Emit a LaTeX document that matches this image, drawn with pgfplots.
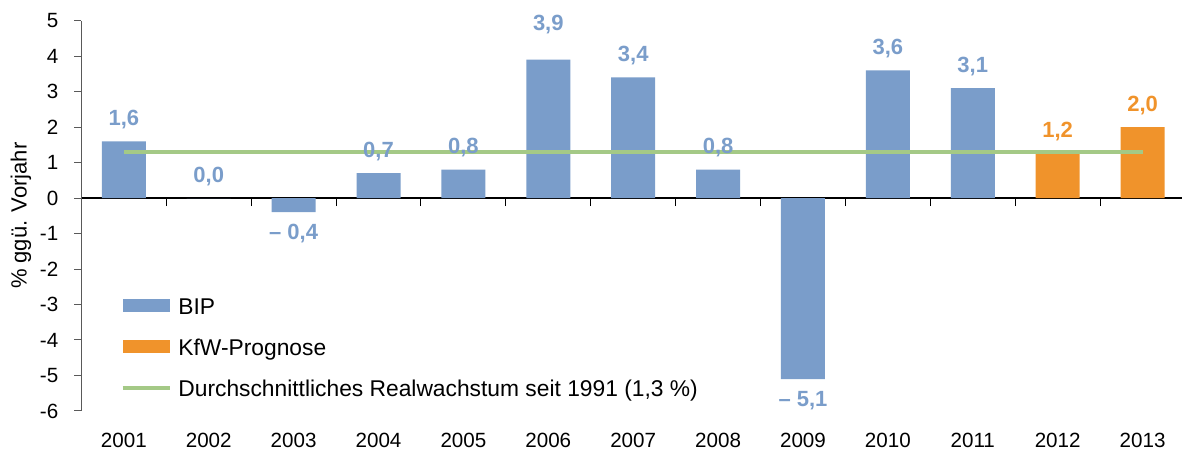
\documentclass[border=0pt]{standalone}
\usepackage{fontspec}
\setmainfont{Liberation Sans}
\usepackage{pgfplots}
\pgfplotsset{compat=1.18}
\definecolor{bipblue}{RGB}{122,157,202}
\definecolor{kfworange}{RGB}{240,147,43}
\definecolor{avggreen}{RGB}{164,201,134}

% BIP, non-negative years
\pgfplotstableread{
x y label
0 1.6 {1,6}
1 0.0 {0,0}
3 0.7 {0,7}
4 0.8 {0,8}
5 3.9 {\raisebox{6.5pt}{3,9}}
6 3.4 {3,4}
7 0.8 {0,8}
9 3.6 {3,6}
10 3.1 {3,1}
}\bippos
% BIP, negative years
\pgfplotstableread{
x y label
2 -0.4 {–~0,4}
8 -5.1 {–~5,1}
}\bipneg
% KfW forecast
\pgfplotstableread{
x y label
11 1.25 {1,2}
12 2.0 {2,0}
}\kfwdata

\begin{document}
\begin{tikzpicture}
\pgfplotsset{
  common/.style={
    scale only axis, width=550.2pt, height=195.2pt,
    xmin=-0.5, xmax=12.46, ymin=-6, ymax=5,
  },
  poslabel/.style={nodes near coords style={font=\fontsize{11}{13}\selectfont\bfseries, inner sep=0pt, anchor=base, yshift=8pt}},
  neglabel/.style={nodes near coords style={font=\fontsize{11}{13}\selectfont\bfseries, inner sep=0pt, anchor=north, yshift=-6pt}},
}
\begin{axis}[common,
  axis y line=left, axis x line=middle,
  axis line style={-},
  x axis line style={black, line width=1pt},
  y axis line style={black!65, line width=0.5pt},
  hide obscured x ticks=false, hide obscured y ticks=false,
  ytick={-6,...,5},
  yticklabels={-6,-5,-4,-3,-2,-1,0,1,2,3,4,5},
  yticklabel style={font=\fontsize{10.3}{12}\selectfont, xshift=-4.55pt},
  tick align=outside,
  ytick style={black!65, line width=0.5pt},
  major tick length=3.5pt,
  xtick={0,...,12}, xticklabels={},
  major x tick style={draw=none},
  minor x tick num=1,
  minor x tick style={black, line width=0.5pt},
  minor tick length=4pt,
  ylabel={\% ggü. Vorjahr},
  ylabel style={font=\fontsize{11}{13}\selectfont, at={(axis description cs:-0.0549,0.5)}, anchor=center},
  legend cell align=left,
  legend style={at={(0.036,0.290)}, anchor=north west, draw=none, fill=none,
    inner sep=0pt, outer sep=0pt, row sep=9.9pt, column sep=3.5pt,
    font=\fontsize{11.4}{13}\selectfont,
    nodes={inner sep=0pt, text height=8.2pt, text depth=2.4pt, anchor=base west}},
]
\addplot[ybar, bar width=22pt, bar shift=0pt, fill=bipblue, draw=none,
  point meta=explicit symbolic, nodes near coords, poslabel,
  every node near coord/.append style={text=bipblue},
  legend image code/.code={\fill[bipblue] (0pt,0.85pt) rectangle (23.5pt,7.35pt);}]
  table[x=x, y=y, meta=label] {\bippos};
\addlegendentry{BIP}
\addplot[ybar, bar width=22pt, bar shift=0pt, fill=bipblue, draw=none, forget plot,
  point meta=explicit symbolic, nodes near coords, neglabel,
  every node near coord/.append style={text=bipblue}]
  table[x=x, y=y, meta=label] {\bipneg};
\addplot[ybar, bar width=22pt, bar shift=0pt, fill=kfworange, draw=none,
  point meta=explicit symbolic, nodes near coords, poslabel,
  every node near coord/.append style={text=kfworange},
  legend image code/.code={\fill[kfworange] (0pt,0.85pt) rectangle (23.5pt,7.35pt);}]
  table[x=x, y=y, meta=label] {\kfwdata};
\addlegendentry{KfW-Prognose}
\addplot[avggreen, line width=1.7pt, sharp plot, mark=none,
  legend image code/.code={\draw[avggreen, line width=1.7pt] (0pt,4.1pt) -- (23.5pt,4.1pt);}]
  coordinates {(0,1.3) (12,1.3)};
\addlegendentry{Durchschnittliches Realwachstum seit 1991 (1,3~\%)}
\end{axis}
\begin{axis}[common, hide y axis, axis x line*=bottom,
  x axis line style={draw=none},
  xtick={0,...,12},
  xticklabels={2001,2002,2003,2004,2005,2006,2007,2008,2009,2010,2011,2012,2013},
  major tick length=0pt, xtick style={draw=none},
  xticklabel style={font=\fontsize{10.3}{12}\selectfont, anchor=center, yshift=-14.5pt}]
\addplot[draw=none, forget plot] coordinates {(0,0)};
\end{axis}
\pgfresetboundingbox
\path ([shift={(-40.7pt,-22pt)}]current axis.south west) rectangle ([shift={(0.2pt,10.3pt)}]current axis.north east);
\end{tikzpicture}
\end{document}
